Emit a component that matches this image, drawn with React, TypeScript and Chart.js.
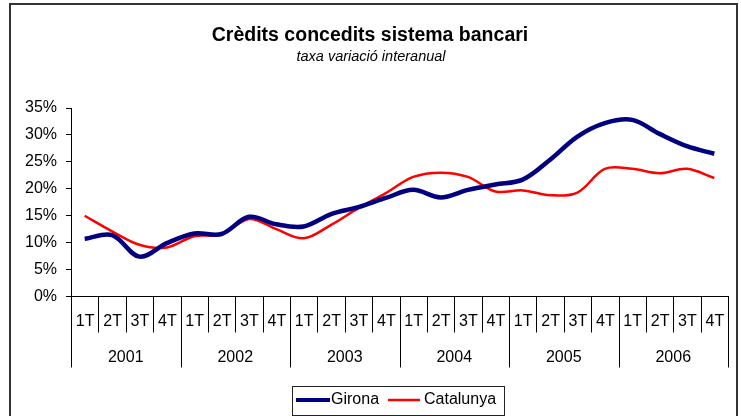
import React, { useEffect, useRef } from "react";
import { Chart, registerables } from "chart.js";

Chart.register(...registerables);

const quarters = ["1T", "2T", "3T", "4T"];
const years = ["2001", "2002", "2003", "2004", "2005", "2006"];
const categories = years.flatMap((y) => quarters.map((q) => `${q} ${y}`));

const girona = [10.7, 11.4, 7.4, 9.9, 11.7, 11.6, 14.8, 13.4, 13.0, 15.3, 16.6, 18.3, 19.8, 18.4, 19.8, 20.8, 21.7, 25.4, 29.7, 32.2, 32.8, 30.2, 27.9, 26.5];
const catalunya = [15.0, 12.1, 9.6, 9.1, 11.2, 11.5, 14.4, 12.5, 10.8, 13.3, 16.4, 19.2, 22.2, 23.0, 22.2, 19.5, 19.7, 18.8, 19.3, 23.7, 23.7, 22.9, 23.7, 22.0];
const yTicks = [0, 5, 10, 15, 20, 25, 30, 35];

const titleText = "Crèdits concedits sistema bancari";
const subtitleText = "taxa variació interanual";
const seriesNames = ["Girona", "Catalunya"];
const seriesColors = ["#000080", "#FF0000"];

const FONT = "'Liberation Sans', Arial, sans-serif";

const decorPlugin = {
  id: "decor",
  beforeDraw(chart: any) {
    const ctx = chart.ctx;
    ctx.save();
    ctx.fillStyle = "#ffffff";
    ctx.fillRect(0, 0, chart.width, chart.height);
    ctx.restore();
  },
  afterDraw(chart: any) {
    const ctx = chart.ctx;
    const xs = chart.scales.x;
    const area = chart.chartArea;
    ctx.save();
    // frame
    ctx.strokeStyle = "#333333";
    ctx.lineWidth = 2;
    ctx.strokeRect(10, 4, 727, 430);

    // title
    ctx.fillStyle = "#000";
    ctx.textAlign = "center";
    ctx.textBaseline = "alphabetic";
    ctx.font = `bold 19.5px ${FONT}`;
    ctx.fillText(titleText, 370, 41);
    ctx.font = `italic 14.5px ${FONT}`;
    ctx.fillText(subtitleText, 371, 61);

    // category axis separators and labels
    const n = categories.length;
    const left = area.left;
    const right = area.right;
    const step = (right - left) / n;
    const y0 = area.bottom;
    ctx.strokeStyle = "#000";
    ctx.lineWidth = 1;
    for (let i = 0; i <= n; i++) {
      const x = Math.round(left + i * step) + 0.5;
      const isYear = i % 4 === 0;
      ctx.beginPath();
      ctx.moveTo(x, y0);
      ctx.lineTo(x, isYear ? y0 + 71 : y0 + 36);
      ctx.stroke();
    }
    ctx.font = `16px ${FONT}`;
    ctx.textBaseline = "middle";
    ctx.textAlign = "center";
    for (let i = 0; i < n; i++) {
      const x = xs.getPixelForValue(i);
      ctx.fillText(quarters[i % 4], x + 0.5, y0 + 25);
    }
    years.forEach((yr, k) => {
      const x = (xs.getPixelForValue(k * 4) + xs.getPixelForValue(k * 4 + 3)) / 2;
      ctx.fillText(yr, x, y0 + 61);
    });

    // legend
    ctx.strokeStyle = "#222";
    ctx.lineWidth = 1;
    ctx.strokeRect(292.5, 386.5, 212, 29);
    const ly = 400;
    ctx.lineCap = "butt";
    ctx.strokeStyle = seriesColors[0];
    ctx.lineWidth = 4;
    ctx.beginPath();
    ctx.moveTo(296, ly);
    ctx.lineTo(330, ly);
    ctx.stroke();
    ctx.strokeStyle = seriesColors[1];
    ctx.lineWidth = 2.5;
    ctx.beginPath();
    ctx.moveTo(388, ly);
    ctx.lineTo(420, ly);
    ctx.stroke();
    ctx.fillStyle = "#000";
    ctx.textAlign = "left";
    ctx.font = `16px ${FONT}`;
    ctx.fillText(seriesNames[0], 331, ly);
    ctx.fillText(seriesNames[1], 424, ly);
    ctx.restore();
  },
};

export default function App() {
  const ref = useRef<HTMLCanvasElement | null>(null);
  useEffect(() => {
    document.body.style.margin = "0";
    const canvas = ref.current!;
    const chart = new Chart(canvas, {
      type: "line",
      data: {
        labels: categories,
        datasets: [
          {
            label: seriesNames[0],
            data: girona,
            borderColor: seriesColors[0],
            backgroundColor: seriesColors[0],
            borderWidth: 4.5,
            pointRadius: 0,
            tension: 0.35,
            fill: false,
          },
          {
            label: seriesNames[1],
            data: catalunya,
            borderColor: seriesColors[1],
            backgroundColor: seriesColors[1],
            borderWidth: 2.5,
            pointRadius: 0,
            tension: 0.35,
            fill: false,
          },
        ],
      },
      options: {
        responsive: false,
        animation: false,
        devicePixelRatio: 1,
        layout: { padding: { left: 0, right: 13, top: 108, bottom: 0 } },
        plugins: {
          legend: { display: false },
          title: { display: false },
          tooltip: { enabled: false },
        },
        scales: {
          x: {
            type: "category",
            offset: true,
            grid: { display: false },
            ticks: { display: false },
            border: { display: true, color: "#000", width: 1 },
            afterFit: (s: any) => {
              s.height = 119.5;
            },
          },
          y: {
            min: 0,
            max: 35,
            afterBuildTicks: (s: any) => {
              s.ticks = yTicks.map((v) => ({ value: v }));
            },
            grid: {
              display: true,
              drawOnChartArea: false,
              drawTicks: true,
              tickLength: 5,
              color: "#000",
            },
            border: { display: true, color: "#000", width: 1 },
            ticks: {
              padding: 9,
              color: "#000",
              font: { family: FONT, size: 16 },
              callback: (v: any) => `${v}%`,
            },
            afterFit: (s: any) => {
              s.width = 71;
            },
          },
        },
      },
      plugins: [decorPlugin],
    });
    return () => chart.destroy();
  }, []);
  return (
    <div style={{ width: 741, height: 416 }}>
      <canvas ref={ref} width={741} height={416} style={{ display: "block", width: 741, height: 416 }} />
    </div>
  );
}
